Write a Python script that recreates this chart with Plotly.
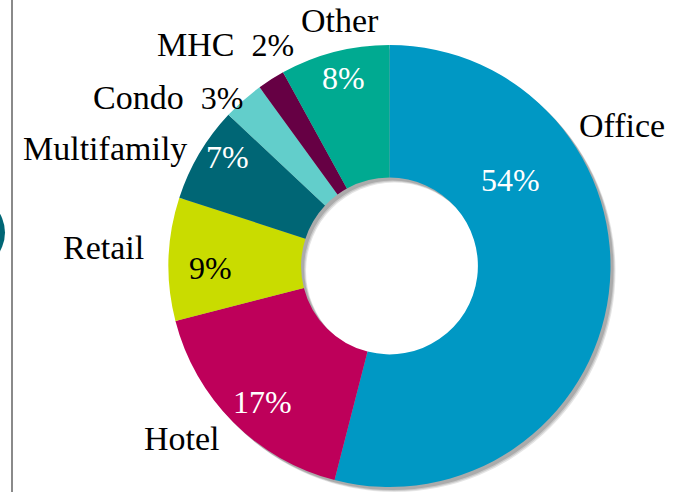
import plotly.graph_objects as go

# ---- data ----
categories = ["Office", "Hotel", "Retail", "Multifamily", "Condo", "MHC", "Other"]
shares = [54, 17, 9, 7, 3, 2, 8]
colors = ["#0098C4", "#BE005A", "#C9DC00", "#006675", "#62CECB", "#660044", "#00AA91"]

W, H = 683, 492
CX, CY, R = 389.5, 266.0, 221.0   # pixel centre / radius of donut
HOLE = 0.40


def dom(cx, cy, r):
    return dict(x=[max(0, (cx - r) / W), min(1, (cx + r) / W)],
                y=[max(0, 1 - (cy + r) / H), min(1, 1 - (cy - r) / H)])


fig = go.Figure()

# soft drop shadow layers
for dx, dy, a in [(5, 5, 0.10), (4, 4, 0.12), (3, 3, 0.15)]:
    fig.add_trace(go.Pie(values=[1], labels=["shadow"], hole=HOLE, sort=False,
                         domain=dom(CX + dx, CY + dy, R), textinfo="none",
                         hoverinfo="skip", marker=dict(colors=[f"rgba(0,0,0,{a})"],
                                                         line=dict(width=0))))

fig.add_trace(go.Pie(labels=categories, values=shares, hole=HOLE, sort=False,
                     direction="clockwise", rotation=0, domain=dom(CX, CY, R),
                     textinfo="none", marker=dict(colors=colors, line=dict(width=0))))

FONT = "Georgia, 'Liberation Serif', serif"
NAME_SIZE = 34
PCT_SIZE = 32

# label placement (pixel centres): name position, percent position
name_pos = {"Office": (622, 125), "Hotel": (182, 438), "Retail": (103, 247),
            "Multifamily": (105, 148), "Other": (340, 20)}
pct_pos = {"Office": (510, 180), "Hotel": (262, 402), "Retail": (210, 268),
           "Multifamily": (227, 157), "Other": (343, 78)}
combined_pos = {"Condo": (168, 97), "MHC": (225, 45)}
pct_color = {"Retail": "#000000"}


def a(x, y, text, size, color):
    return dict(x=x / W, y=1 - y / H, xref="paper", yref="paper", text=text,
                xanchor="center", yanchor="middle", showarrow=False,
                font=dict(family=FONT, size=size, color=color))


ann = []
for cat, v in zip(categories, shares):
    if cat in combined_pos:
        x, y = combined_pos[cat]
        ann.append(a(x, y, f"{cat}&nbsp; <span style='font-size:{PCT_SIZE}px'>{v}%</span>",
                     NAME_SIZE, "#000"))
        continue
    x, y = name_pos[cat]
    ann.append(a(x, y, cat, NAME_SIZE, "#000"))
    x, y = pct_pos[cat]
    ann.append(a(x, y, f"{v}%", PCT_SIZE, pct_color.get(cat, "#FFFFFF")))

shapes = [
    dict(type="line", xref="paper", yref="paper", x0=12 / W, x1=12 / W, y0=0, y1=1,
         line=dict(color="#8A8A8A", width=2)),
    dict(type="circle", xref="paper", yref="paper", x0=-70 / W, x1=5 / W,
         y0=1 - 270 / H, y1=1 - 195 / H, fillcolor="#006675", line=dict(width=0)),
]

fig.update_layout(width=W, height=H, margin=dict(l=0, r=0, t=0, b=0),
                  paper_bgcolor="white", plot_bgcolor="white", showlegend=False,
                  annotations=ann, shapes=shapes)

fig.write_html("out.html", config={"displayModeBar": False},
               post_script="document.body.style.margin='0px';")
